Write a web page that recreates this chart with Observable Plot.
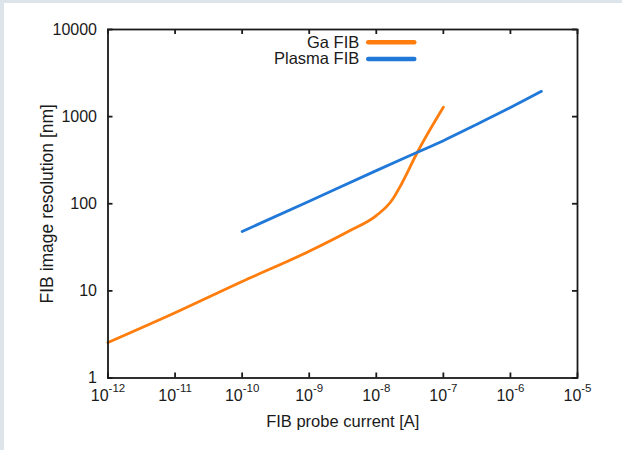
<!DOCTYPE html>
<html>
<head>
<meta charset="utf-8">
<script src="https://cdn.jsdelivr.net/npm/d3@7"></script>
<script src="https://cdn.jsdelivr.net/npm/@observablehq/plot@0.6"></script>
<style>
  html, body { margin: 0; padding: 0; background: #fff; }
  #chart { position: absolute; left: 0; top: 0; }
  .edge { position: absolute; background: #dde4ea; z-index: 5; }
</style>
</head>
<body>
<div id="chart"></div>
<div class="edge" style="left:0;top:0;width:4px;height:450px"></div>
<div class="edge" style="left:0;top:0;width:622px;height:3px"></div>
<script>
// ---- data ----
const gaCurrent = [1e-12, 1e-11, 1e-10, 1e-9, 4e-9, 1e-8, 1.7e-8, 2.4e-8, 4.1e-8, 1e-7];
const gaResolution = [2.55, 5.6, 12.8, 28.5, 49, 73, 109, 171, 390, 1280];

const plasmaCurrent = [1e-10, 1e-9, 1e-8, 4.1e-8, 1e-7, 2.9e-7, 1e-6, 2.9e-6];
const plasmaResolution = [48, 107, 240, 390, 530, 790, 1270, 1950];

const seriesNames = ["Ga FIB", "Plasma FIB"];
const seriesColors = ["#ff7d0d", "#2078d8"];

const xTickExponents = [-12, -11, -10, -9, -8, -7, -6, -5];
const yTicks = [1, 10, 100, 1000, 10000];
const yTickLabels = ["1", "10", "100", "1000", "10000"];

const xLabel = "FIB probe current [A]";
const yLabel = "FIB image resolution [nm]";

// ---- tables ----
const ga = gaCurrent.map((c, i) => ({current: c, res: gaResolution[i]}));
const plasma = plasmaCurrent.map((c, i) => ({current: c, res: plasmaResolution[i]}));
const xTicks = xTickExponents.map(e => Math.pow(10, e));

const W = 622, H = 450;
const mL = 107.5, mR = 45, mT = 29, mB = 72.5;
const plotH = H - mT - mB, plotW = W - mL - mR;
const tickLen = 5;
const ink = "#1a1a1a";

function legend(index, scales, values, dimensions) {
  const {marginTop, marginLeft, marginRight, width} = dimensions;
  const cx = (marginLeft + width - marginRight) / 2;
  const g = d3.create("svg:g");
  seriesNames.forEach((name, i) => {
    const y = marginTop + 13.3 + i * 16.7;
    g.append("text")
      .attr("x", cx + 17).attr("y", y).attr("dy", "0.32em")
      .attr("text-anchor", "end").attr("fill", ink).attr("font-size", 16.5)
      .text(name);
    g.append("line")
      .attr("x1", cx + 26).attr("x2", cx + 72)
      .attr("y1", y).attr("y2", y)
      .attr("stroke", seriesColors[i]).attr("stroke-width", 4.5)
      .attr("stroke-linecap", "round");
  });
  return g.node();
}

const chart = Plot.plot({
  width: W, height: H,
  marginLeft: mL, marginRight: mR, marginTop: mT, marginBottom: mB,
  x: {type: "log", domain: [1e-12, 1e-5], label: null},
  y: {type: "log", domain: [1, 10000], label: null},
  style: {fontFamily: "'Liberation Sans', Arial, Helvetica, sans-serif", fontSize: "16px", color: ink, background: "white"},
  marks: [
    Plot.line(ga, {x: "current", y: "res", stroke: seriesColors[0], strokeWidth: 2.8, curve: "monotone-x"}),
    Plot.line(plasma, {x: "current", y: "res", stroke: seriesColors[1], strokeWidth: 2.8, curve: "monotone-x"}),
    // inward ticks on all four sides
    Plot.ruleX(xTicks, {x: d => d, insetTop: plotH - tickLen, stroke: ink, strokeWidth: 1.8}),
    Plot.ruleX(xTicks, {x: d => d, insetBottom: plotH - tickLen, stroke: ink, strokeWidth: 1.8}),
    Plot.ruleY(yTicks, {y: d => d, insetRight: plotW - tickLen, stroke: ink, strokeWidth: 1.8}),
    Plot.ruleY(yTicks, {y: d => d, insetLeft: plotW - tickLen, stroke: ink, strokeWidth: 1.8}),
    Plot.frame({stroke: ink, strokeWidth: 1.8}),
    Plot.axisX({ticks: xTicks, tickSize: 0, tickPadding: 12, label: null, fontSize: 16,
      tickFormat: d => String(Math.round(Math.log10(d)))}),
    Plot.axisY({ticks: yTicks, tickSize: 0, tickPadding: 11, label: null, fontSize: 16,
      tickFormat: d => yTickLabels[yTicks.indexOf(d)]}),
    Plot.text([xLabel], {text: d => d, frameAnchor: "bottom", dy: 43.5, lineAnchor: "middle", textAnchor: "middle", fontSize: 16.5, fill: ink}),
    Plot.text([yLabel], {text: d => d, frameAnchor: "left", dx: -61, rotate: -90, lineAnchor: "middle", textAnchor: "middle", fontSize: 17.5, fill: ink}),
    legend
  ]
});

// superscript exponents on x tick labels: 10^e
chart.querySelectorAll('g[aria-label="x-axis tick label"] text').forEach(t => {
  const e = t.textContent;
  t.textContent = "";
  const base = document.createElementNS("http://www.w3.org/2000/svg", "tspan");
  base.textContent = "10";
  const sup = document.createElementNS("http://www.w3.org/2000/svg", "tspan");
  sup.setAttribute("dy", "-9.5");
  sup.setAttribute("font-size", "11.5");
  sup.textContent = e;
  t.appendChild(base);
  t.appendChild(sup);
});

document.getElementById("chart").appendChild(chart);
</script>
</body>
</html>
